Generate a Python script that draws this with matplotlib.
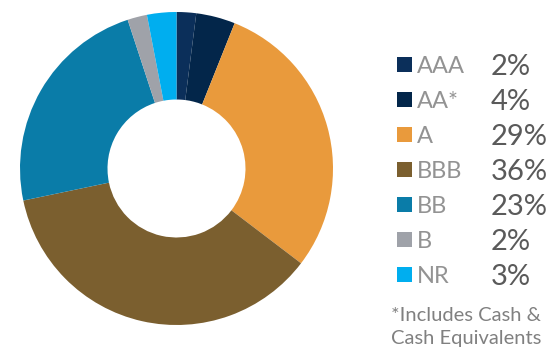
import matplotlib
matplotlib.use("Agg")
import matplotlib.pyplot as plt
from matplotlib.patches import Rectangle

# Data
ratings = ["AAA", "AA*", "A", "BBB", "BB", "B", "NR"]
shares = [2, 4, 29, 36, 23, 2, 3]
colors = ["#0b2f5a", "#03264a", "#e99a3c", "#7b5f2f", "#0a7ca8", "#9fa2a9", "#00aeef"]
footnote = ["*Includes Cash &", "Cash Equivalents"]

W, H = 548, 349
fig = plt.figure(figsize=(W / 100, H / 100), dpi=100)

# donut
cx, cy, r_out, r_in = 176.5, 168.5, 156.5, 69
box = 160
ax = fig.add_axes([(cx - box) / W, (H - cy - box) / H, 2 * box / W, 2 * box / H])
ax.pie(shares, colors=colors, startangle=90, counterclock=False,
       radius=r_out / box,
       wedgeprops=dict(width=(r_out - r_in) / box, edgecolor="none", linewidth=0))
ax.set_xlim(-1, 1)
ax.set_ylim(-1, 1)
ax.set_aspect("equal")
ax.axis("off")

# legend
font = "Lato"
y0, step = 64.5, 35
for i, (lab, val, col) in enumerate(zip(ratings, shares, colors)):
    y = y0 + i * step
    fig.add_artist(Rectangle(((397) / W, (H - y - 7.5) / H), 15 / W, 15 / H,
                             transform=fig.transFigure, facecolor=col, edgecolor="none"))
    fig.text(417 / W, (H - y) / H, lab, fontsize=17, family=font,
             color="#939393", va="center_baseline", ha="left")
    fig.text(491 / W, (H - y) / H, f"{val}%", fontsize=21, family=font,
             color="#5a5a5a", va="center_baseline", ha="left")

for k, line in enumerate(footnote):
    fig.text(391 / W, (H - 321 - 23 * k) / H, line, fontsize=14.5, family=font,
             color="#808080", va="baseline", ha="left")

fig.savefig("out.png", dpi=100)
